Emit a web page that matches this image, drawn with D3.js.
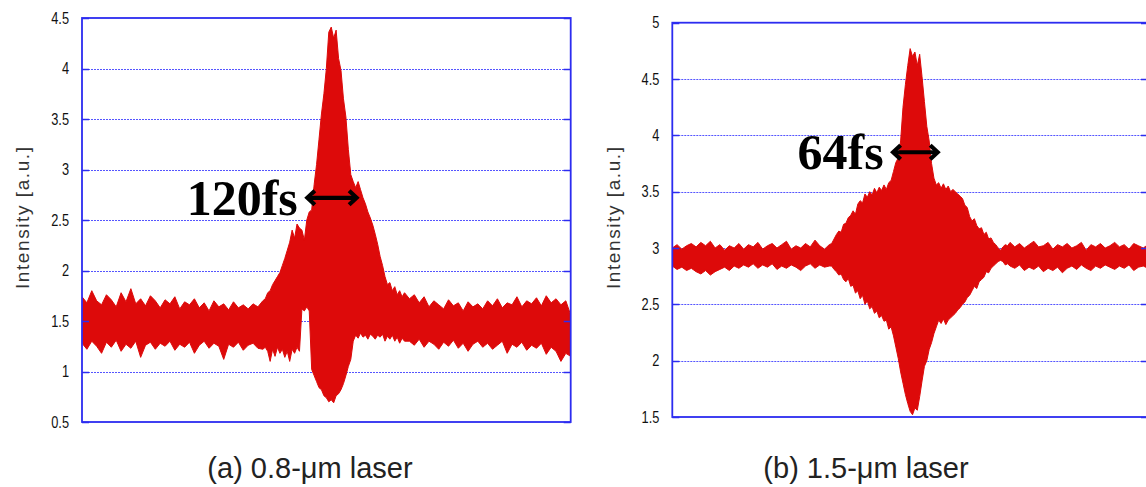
<!DOCTYPE html>
<html>
<head>
<meta charset="utf-8">
<script src="https://cdn.jsdelivr.net/npm/d3@7"></script>
<style>
  html, body { margin: 0; padding: 0; background: #fff; }
  svg { display: block; }
</style>
</head>
<body>
<svg id="chart" width="1146" height="487"></svg>
<script>
// ---- Autocorrelation trace (a): 0.8-um laser ----
// delay in arbitrary units (0..100 across the window); upper/lower envelope of the fringe signal
const delayA = [0,1,2,3,4,5,6,7,8,9,10,11,12,13,14,15,16,17,18,19,20,21,22,23,24,25,26,27,28,29,30,31,32,33,34,35,36,37,
  37.5,38,38.5,39,39.5,40,40.5,41,41.5,42,42.5,43,43.5,44,44.5,45,45.5,46,46.5,47,47.5,48,48.5,49,49.5,50,50.5,51,51.5,52,52.5,53,53.5,54,54.5,55,55.5,56,56.5,57,57.5,58,58.5,59,59.5,60,60.5,61,61.5,62,62.5,63,63.5,64,64.5,65,65.5,66,
  67,68,69,70,71,72,73,74,75,76,77,78,79,80,81,82,83,84,85,86,87,88,89,90,91,92,93,94,95,96,97,98,99,100];
const upperA = [1.74,1.68,1.80,1.70,1.66,1.76,1.71,1.64,1.78,1.69,1.82,1.67,1.72,1.65,1.75,1.70,1.63,1.71,1.67,1.74,1.62,1.69,1.66,1.72,1.63,1.68,1.60,1.70,1.64,1.67,1.61,1.69,1.63,1.66,1.62,1.67,1.64,1.70,
  1.72,1.78,1.80,1.86,1.90,1.94,1.98,2.05,2.12,2.20,2.28,2.40,2.32,2.46,2.42,2.40,2.30,2.50,2.58,2.60,2.85,3.05,3.30,3.55,3.75,4.00,4.36,4.41,4.30,4.38,4.10,3.98,3.70,3.52,3.20,2.95,2.88,2.82,2.88,2.80,2.72,2.66,2.58,2.52,2.45,2.36,2.26,2.14,2.05,1.94,1.86,1.88,1.80,1.84,1.76,1.80,1.74,1.78,
  1.72,1.76,1.68,1.74,1.64,1.70,1.66,1.62,1.71,1.65,1.68,1.60,1.69,1.64,1.67,1.62,1.70,1.65,1.72,1.63,1.68,1.66,1.74,1.64,1.70,1.67,1.73,1.65,1.75,1.68,1.72,1.66,1.70,1.56];
const lowerA = [1.28,1.22,1.30,1.25,1.18,1.29,1.24,1.31,1.20,1.27,1.23,1.30,1.14,1.26,1.29,1.22,1.28,1.25,1.30,1.21,1.27,1.24,1.29,1.18,1.26,1.30,1.23,1.28,1.25,1.12,1.27,1.24,1.29,1.21,1.26,1.28,1.23,1.22,
  1.24,1.20,1.10,1.22,1.15,1.24,1.18,1.22,1.14,1.20,1.10,1.22,1.18,1.24,1.20,1.62,1.60,1.64,1.60,1.02,0.96,0.90,0.84,0.82,0.76,0.74,0.70,0.72,0.69,0.76,0.78,0.82,0.88,0.96,1.05,1.12,1.30,1.36,1.33,1.38,1.34,1.36,1.32,1.37,1.35,1.32,1.36,1.34,1.37,1.30,1.35,1.32,1.36,1.30,1.34,1.28,1.33,1.30,
  1.30,1.26,1.32,1.24,1.30,1.27,1.22,1.29,1.25,1.31,1.23,1.28,1.20,1.27,1.30,1.24,1.28,1.22,1.26,1.30,1.18,1.27,1.24,1.29,1.21,1.26,1.23,1.28,1.17,1.24,1.20,1.10,1.18,1.15];
const ticksA = [0.5,1,1.5,2,2.5,3,3.5,4,4.5];
const widthLabelA = "120fs";
const widthSpanA = [45.8, 56.5];   // delay range of the FWHM arrow
const widthLevelA = 2.72;          // intensity level of the FWHM arrow
const captionA = "(a) 0.8-μm laser";

// ---- Autocorrelation trace (b): 1.5-um laser ----
const delayB = [0,1,2,3,4,5,6,7,8,9,10,11,12,13,14,15,16,17,18,19,20,21,22,23,24,25,26,27,28,29,30,31,32,33,
  33.5,34,34.5,35,35.5,36,36.5,37,37.5,38,38.5,39,39.5,40,40.5,41,41.5,42,42.5,43,43.5,44,44.5,45,45.5,46,46.5,47,47.5,48,48.5,49,49.5,50,50.5,51,51.5,52,52.5,53,53.5,54,54.5,55,55.5,56,56.5,57,57.5,58,58.5,59,59.5,60,60.5,61,61.5,62,62.5,63,63.5,64,64.5,65,65.5,66,66.5,67,67.5,68,68.5,69,69.5,70,70.5,
  71,72,73,74,75,76,77,78,79,80,81,82,83,84,85,86,87,88,89,90,91,92,93,94,95,96,97,98,99,100];
const upperB = [3.00,3.03,2.99,3.02,3.04,3.01,3.05,3.02,3.06,3.00,3.03,2.98,3.02,3.00,3.04,2.99,3.03,3.01,3.05,2.99,3.02,3.04,3.00,3.03,3.06,2.99,3.02,3.00,3.04,3.01,3.07,3.02,2.99,3.03,
  3.04,3.08,3.12,3.15,3.14,3.21,3.22,3.27,3.29,3.33,3.30,3.39,3.42,3.40,3.48,3.45,3.50,3.47,3.53,3.49,3.54,3.51,3.56,3.52,3.58,3.60,3.68,3.76,3.80,3.95,4.25,4.45,4.62,4.77,4.70,4.74,4.62,4.72,4.52,4.30,4.08,3.95,3.75,3.62,3.56,3.58,3.53,3.57,3.52,3.55,3.50,3.52,3.50,3.48,3.46,3.44,3.38,3.36,3.28,3.24,3.26,3.20,3.17,3.18,3.12,3.14,3.08,3.09,3.05,3.03,3.00,2.98,3.01,3.03,3.02,
  3.05,3.01,3.04,3.00,3.03,3.06,3.01,3.02,3.05,2.99,3.03,3.01,3.04,3.00,3.02,3.05,2.98,3.03,3.01,3.04,3.00,3.02,3.05,3.01,3.03,2.99,3.04,3.02,3.00,3.03];
const lowerB = [2.84,2.81,2.83,2.80,2.82,2.79,2.77,2.80,2.76,2.79,2.81,2.83,2.80,2.84,2.82,2.85,2.83,2.86,2.82,2.85,2.83,2.86,2.81,2.84,2.82,2.85,2.83,2.80,2.84,2.86,2.82,2.85,2.83,2.84,
  2.84,2.81,2.79,2.76,2.77,2.72,2.70,2.73,2.66,2.67,2.60,2.62,2.55,2.58,2.50,2.53,2.46,2.48,2.42,2.44,2.38,2.40,2.35,2.36,2.28,2.30,2.22,2.12,2.02,1.90,1.80,1.70,1.62,1.55,1.52,1.58,1.56,1.68,1.82,1.95,2.00,2.10,2.16,2.24,2.30,2.36,2.33,2.37,2.32,2.36,2.38,2.40,2.42,2.45,2.47,2.50,2.52,2.56,2.58,2.62,2.66,2.64,2.70,2.72,2.74,2.79,2.78,2.82,2.84,2.86,2.88,2.89,2.88,2.85,2.86,
  2.84,2.82,2.85,2.80,2.83,2.81,2.84,2.79,2.82,2.80,2.83,2.78,2.82,2.84,2.81,2.85,2.82,2.80,2.84,2.82,2.85,2.83,2.81,2.84,2.82,2.85,2.80,2.83,2.84,2.82];
const ticksB = [1.5,2,2.5,3,3.5,4,4.5,5];
const widthLabelB = "64fs";
const widthSpanB = [46.1, 56.1];
const widthLevelB = 3.85;
const captionB = "(b) 1.5-μm laser";

const yTitle = "Intensity [a.u.]";

const svg = d3.select("#chart");
const TRACE = "#dd0a0a";
const FRAME = "#2c2cf0";

const panels = [
  { delay: delayA, upper: upperA, lower: lowerA, ticks: ticksA,
    yDomain: [0.5, 4.5], box: { x0: 82, x1: 570.7, y0: 18, y1: 422 },
    label: widthLabelA, span: widthSpanA, level: widthLevelA,
    caption: captionA, capX: 310, titleX: 22 },
  { delay: delayB, upper: upperB, lower: lowerB, ticks: ticksB,
    yDomain: [1.5, 5], box: { x0: 672.3, x1: 1148, y0: 22.7, y1: 417 },
    label: widthLabelB, span: widthSpanB, level: widthLevelB,
    caption: captionB, capX: 866, titleX: 613 }
];

panels.forEach((p, i) => {
  const b = p.box;
  const x = d3.scaleLinear().domain([0, 100]).range([b.x0, b.x1]);
  const y = d3.scaleLinear().domain(p.yDomain).range([b.y1, b.y0]);
  const g = svg.append("g");

  const clipId = "clip" + i;
  svg.append("clipPath").attr("id", clipId)
    .append("rect").attr("x", b.x0).attr("y", b.y0)
    .attr("width", b.x1 - b.x0).attr("height", b.y1 - b.y0);

  // dotted horizontal gridlines
  g.append("g").selectAll("line")
    .data(p.ticks.slice(1, -1))
    .join("line")
    .attr("x1", b.x0).attr("x2", b.x1)
    .attr("y1", d => Math.round(y(d)) + 0.5).attr("y2", d => Math.round(y(d)) + 0.5)
    .attr("stroke", "#5555ff").attr("stroke-width", 1.2)
    .attr("stroke-dasharray", "2,1");

  // signal envelope
  const rows = p.delay.map((t, k) => ({ t, hi: p.upper[k], lo: p.lower[k] }));
  const area = d3.area()
    .x(d => x(d.t)).y0(d => y(d.lo)).y1(d => y(d.hi))
    .curve(d3.curveLinear);
  g.append("path")
    .datum(rows)
    .attr("clip-path", `url(#${clipId})`)
    .attr("d", area)
    .attr("fill", TRACE)
    .attr("stroke", TRACE).attr("stroke-width", 1).attr("stroke-linejoin", "miter");

  // inner ticks on both vertical edges
  const tickLen = 7;
  const tk = g.append("g");
  p.ticks.forEach(v => {
    const yy = Math.round(y(v)) + 0.5;
    tk.append("line").attr("x1", b.x0).attr("x2", b.x0 + tickLen)
      .attr("y1", yy).attr("y2", yy).attr("stroke", FRAME).attr("stroke-width", 1.5);
    tk.append("line").attr("x1", b.x1 - tickLen).attr("x2", b.x1)
      .attr("y1", yy).attr("y2", yy).attr("stroke", FRAME).attr("stroke-width", 1.5);
  });

  // plot frame
  g.append("rect")
    .attr("x", b.x0).attr("y", b.y0)
    .attr("width", b.x1 - b.x0).attr("height", b.y1 - b.y0)
    .attr("fill", "none").attr("stroke", FRAME).attr("stroke-width", 1.8);

  // y tick labels via d3 axis, set in a condensed face
  const squeeze = 0.8, pad = 13;
  const axis = d3.axisLeft(y).tickValues(p.ticks).tickSize(0).tickPadding(pad)
    .tickFormat(d3.format("~g"));
  const ax = g.append("g").attr("transform", `translate(${b.x0},0)`).call(axis);
  ax.select(".domain").remove();
  ax.selectAll("text")
    .attr("font-family", "'Liberation Sans', Arial, sans-serif")
    .attr("font-size", 16).attr("fill", "#111")
    .attr("x", -pad / squeeze)
    .attr("transform", `scale(${squeeze},1)`);

  // y axis title
  g.append("text")
    .attr("transform", `translate(${p.titleX},218) rotate(-90)`)
    .attr("text-anchor", "middle").attr("dominant-baseline", "central")
    .attr("font-family", "'Liberation Sans', Arial, sans-serif")
    .attr("font-size", 19).attr("fill", "#333")
    .attr("textLength", 142).attr("lengthAdjust", "spacing")
    .text(yTitle);

  // FWHM arrow
  const ax0 = x(p.span[0]), ax1 = x(p.span[1]), ay = y(p.level);
  const head = 9, half = 7;
  const ar = g.append("g").attr("stroke", "#000").attr("stroke-width", 4.2)
    .attr("fill", "none").attr("stroke-linejoin", "miter").attr("stroke-linecap", "butt");
  ar.append("line").attr("x1", ax0 + 2).attr("x2", ax1 - 2).attr("y1", ay).attr("y2", ay);
  ar.append("path").attr("d", `M${ax0 + head},${ay - half} L${ax0 + 1.5},${ay} L${ax0 + head},${ay + half}`);
  ar.append("path").attr("d", `M${ax1 - head},${ay - half} L${ax1 - 1.5},${ay} L${ax1 - head},${ay + half}`);

  g.append("text")
    .attr("x", ax0 - 8).attr("y", ay + 17)
    .attr("text-anchor", "end")
    .attr("font-family", "'Liberation Serif', 'DejaVu Serif', serif")
    .attr("font-weight", "bold")
    .attr("font-size", 50).attr("fill", "#000")
    .text(p.label);

  // caption
  svg.append("text")
    .attr("x", p.capX).attr("y", 478)
    .attr("text-anchor", "middle")
    .attr("font-family", "'Liberation Sans', Arial, sans-serif")
    .attr("font-size", 29).attr("fill", "#222")
    .text(p.caption);
});
</script>
</body>
</html>
